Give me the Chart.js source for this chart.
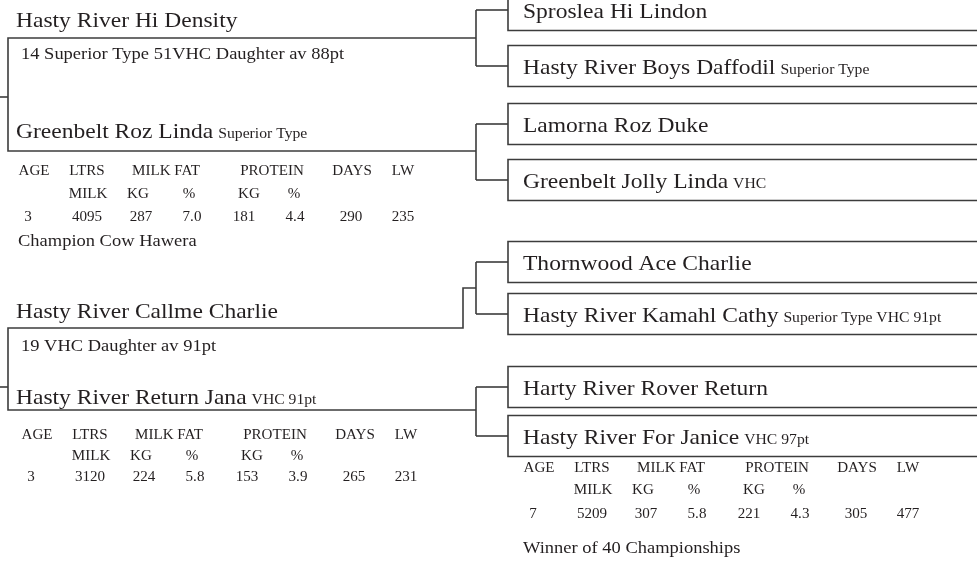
<!DOCTYPE html>
<html>
<head>
<meta charset="utf-8">
<title>Pedigree</title>
<script src="https://cdn.jsdelivr.net/npm/chart.js@4"></script>
<style>
  html, body { margin: 0; padding: 0; background: #fff; }
  #wrap { width: 977px; height: 561px; position: relative; }
</style>
</head>
<body>
<div id="wrap"><canvas id="pedigree"></canvas></div>
<script>
// ---- data ----
const parentNames = ['Hasty River Hi Density', 'Greenbelt Roz Linda', 'Hasty River Callme Charlie', 'Hasty River Return Jana'];
const parentNotes = ['', 'Superior Type', '', 'VHC 91pt'];
const sireDaughters = ['14 Superior Type 51VHC Daughter av 88pt', '19 VHC Daughter av 91pt'];
const grandNames = ['Sproslea Hi Lindon', 'Hasty River Boys Daffodil', 'Lamorna Roz Duke', 'Greenbelt Jolly Linda',
                    'Thornwood Ace Charlie', 'Hasty River Kamahl Cathy', 'Harty River Rover Return', 'Hasty River For Janice'];
const grandNotes = ['', 'Superior Type', '', 'VHC', '', 'Superior Type VHC 91pt', '', 'VHC 97pt'];
const headerTop = ['AGE', 'LTRS', 'MILK FAT', 'PROTEIN', 'DAYS', 'LW'];
const headerSub = ['MILK', 'KG', '%', 'KG', '%'];
const lindaRecord = ['3', '4095', '287', '7.0', '181', '4.4', '290', '235'];
const janaRecord = ['3', '3120', '224', '5.8', '153', '3.9', '265', '231'];
const janiceRecord = ['7', '5209', '307', '5.8', '221', '4.3', '305', '477'];
const awards = ['Champion Cow Hawera', 'Winner of 40 Championships'];

// ---- layout (page units = pixels) ----
const W = 977, H = 561;
const leftX = 8, bracketX = 476, jogX = 463, boxX = 508;
const parentLineY = [38, 151, 328, 410];
const stubY = [97, 387];
const grandY = [10, 66, 124, 180, 262, 314, 387, 436];
const boxHalf = 20.5;
const parentBase = [27, 138, 318, 404];
const daughterBase = [59, 351];
const colCenter = [28, 87, 141, 192, 244, 295, 351, 403];
const headCenter = [34, 87, 166, 272, 352, 403];
const subCenter = [88, 138, 189, 249, 294];
const tables = [
  { rec: lindaRecord, dx: 0, rows: [175, 198, 221] },
  { rec: janaRecord, dx: 3, rows: [439, 460, 481] },
  { rec: janiceRecord, dx: 505, rows: [472, 494, 518] }
];
const awardPos = [[18, 246], [523, 553]];

const ink = '#231f20';
const lineInk = '#3c3c3c';
const font = '"Liberation Serif", "DejaVu Serif", serif';

// ---- line segments ----
function seg(points) {
  return {
    data: points.map(p => ({ x: p[0], y: p[1] })),
    showLine: true,
    borderColor: lineInk,
    borderWidth: 1.6,
    pointRadius: 0,
    fill: false,
    tension: 0
  };
}

const datasets = [];
// left parent pairs
datasets.push(seg([[bracketX, parentLineY[0]], [leftX, parentLineY[0]], [leftX, parentLineY[1]], [bracketX, parentLineY[1]]]));
datasets.push(seg([[0, stubY[0]], [leftX, stubY[0]]]));
const jogY = (grandY[4] + grandY[5]) / 2;
datasets.push(seg([[bracketX, jogY], [jogX, jogY], [jogX, parentLineY[2]], [leftX, parentLineY[2]], [leftX, parentLineY[3]], [bracketX, parentLineY[3]]]));
datasets.push(seg([[0, stubY[1]], [leftX, stubY[1]]]));
// brackets and grandparent boxes
for (let k = 0; k < grandY.length; k += 2) {
  datasets.push(seg([[bracketX, grandY[k]], [bracketX, grandY[k + 1]]]));
}
grandY.forEach(gy => {
  datasets.push(seg([[bracketX, gy], [boxX, gy]]));
  datasets.push(seg([[W + 10, gy - boxHalf], [boxX, gy - boxHalf], [boxX, gy + boxHalf], [W + 10, gy + boxHalf]]));
});

// ---- text plugin ----
function drawText(ctx, str, x, y, size, align, stretch) {
  const sxf = stretch || 1.12;
  ctx.save();
  ctx.font = size + 'px ' + font;
  ctx.fillStyle = ink;
  ctx.textBaseline = 'alphabetic';
  ctx.textAlign = align || 'left';
  ctx.translate(x, y);
  ctx.scale(sxf, 1);
  ctx.fillText(str, 0, 0);
  const w = ctx.measureText(str).width * sxf;
  ctx.restore();
  return w;
}

function nameWithNote(ctx, name, note, x, y) {
  const w = drawText(ctx, name, x, y, 21);
  if (note) drawText(ctx, note, x + w + 5, y, 14);
}

const pedigreeText = {
  id: 'pedigreeText',
  afterDatasetsDraw(chart) {
    const ctx = chart.ctx;
    const sx = v => chart.scales.x.getPixelForValue(v);
    const sy = v => chart.scales.y.getPixelForValue(v);

    parentNames.forEach((n, i) => nameWithNote(ctx, n, parentNotes[i], sx(16), sy(parentBase[i])));
    sireDaughters.forEach((t, i) => drawText(ctx, t, sx(21), sy(daughterBase[i]), 16.5));
    grandNames.forEach((n, i) => nameWithNote(ctx, n, grandNotes[i], sx(523), sy(grandY[i] + 7.5)));

    tables.forEach(t => {
      headerTop.forEach((h, i) => drawText(ctx, h, sx(headCenter[i] + t.dx), sy(t.rows[0]), 14.5, 'center', 1.04));
      headerSub.forEach((h, i) => drawText(ctx, h, sx(subCenter[i] + t.dx), sy(t.rows[1]), 14.5, 'center', 1.04));
      t.rec.forEach((v, i) => drawText(ctx, v, sx(colCenter[i] + t.dx), sy(t.rows[2]), 14.5, 'center', 1.04));
    });
    awards.forEach((a, i) => drawText(ctx, a, sx(awardPos[i][0]), sy(awardPos[i][1]), 16.5));
  }
};

new Chart(document.getElementById('pedigree'), {
  type: 'scatter',
  data: { datasets: datasets },
  options: {
    responsive: true,
    maintainAspectRatio: false,
    animation: false,
    layout: { padding: 0 },
    plugins: { legend: { display: false }, tooltip: { enabled: false } },
    scales: {
      x: { type: 'linear', min: 0, max: W, display: false },
      y: { type: 'linear', min: 0, max: H, reverse: true, display: false }
    }
  },
  plugins: [pedigreeText]
});
</script>
</body>
</html>
